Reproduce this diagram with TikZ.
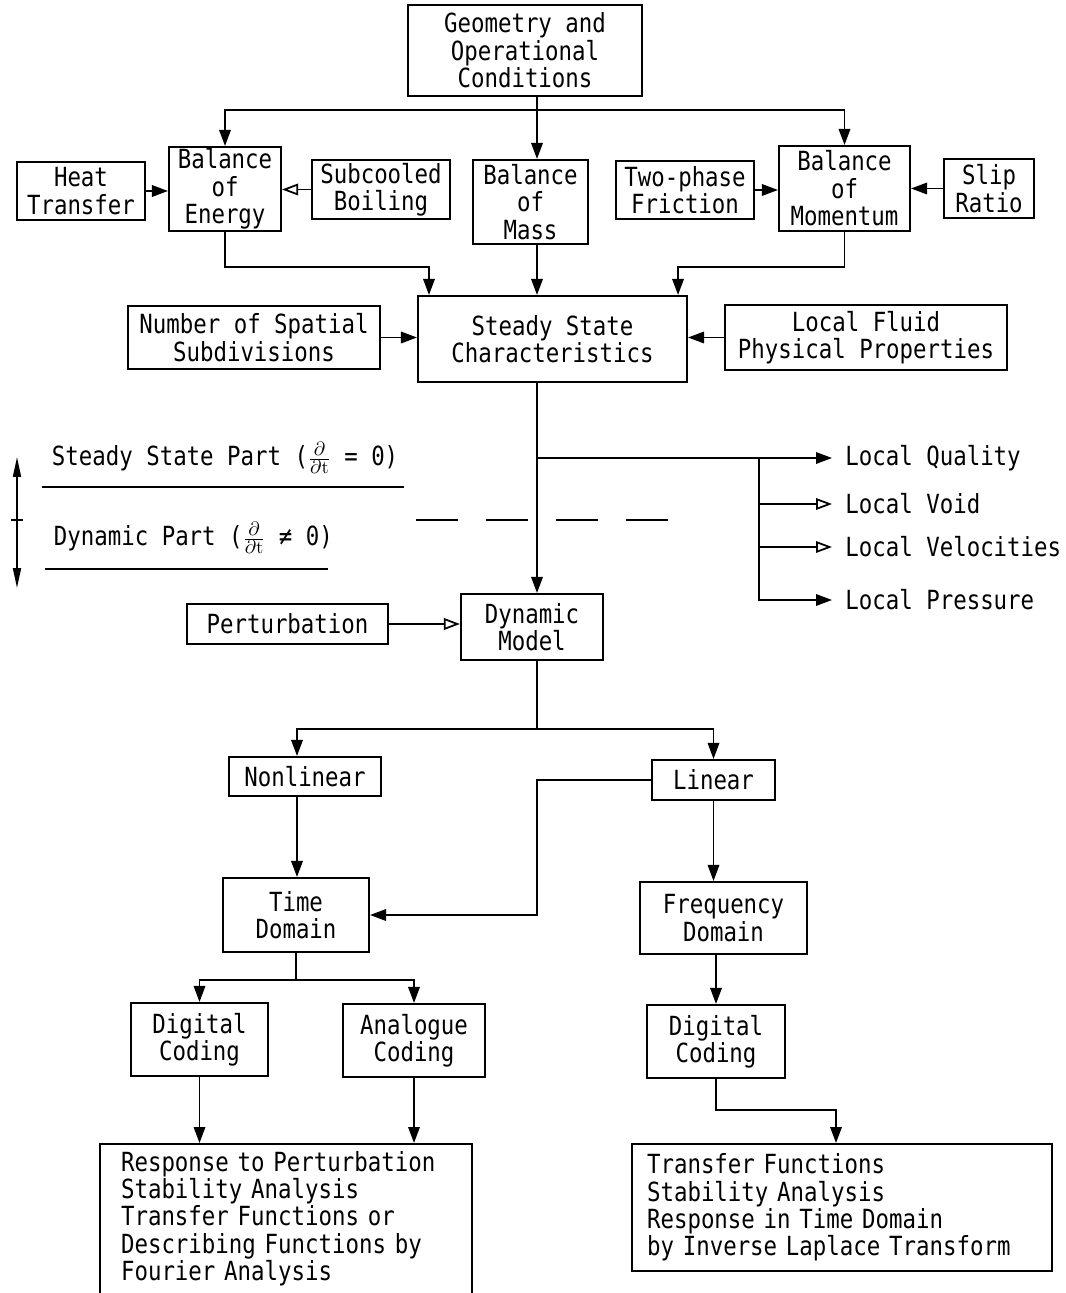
\documentclass[tikz,border=0pt]{standalone}
\usepackage{fontspec}
\newfontfamily\typewriter{DejaVu Sans Mono}[FakeStretch=0.85]
\usetikzlibrary{calc,arrows.meta}

\tikzset{
  box/.style={draw, line width=1.2pt, align=center, inner sep=0pt},
  arr/.style={-{Triangle[length=3.2mm,width=2.3mm]}},
  arro/.style={-{Triangle[open,length=3.2mm,width=2.3mm]}},
  outlabel/.style={anchor=west, inner xsep=0.25cm},
}

\begin{document}
\begin{tikzpicture}[x=0.02cm, y=-0.02cm, line width=1pt,
    font=\typewriter\fontsize{15}{15.6}\selectfont]
  \clip (0,0) rectangle (1065,1293);
  % columns used by the long lines
  \coordinate (spine) at (537,0);
  \coordinate (colL) at (297,0);

  % top block
  \node[box, minimum width=4.68cm, minimum height=1.82cm] (geo) at (525,50.5) {Geometry and\\Operational\\Conditions};
  \node[box, minimum width=2.56cm, minimum height=1.16cm] (heat) at (81,191) {Heat\\Transfer};
  \node[box, minimum width=2.24cm, minimum height=1.68cm] (energy) at (225,189) {Balance\\of\\Energy};
  \node[box, minimum width=2.76cm, minimum height=1.18cm] (sub) at (381,189.5) {Subcooled\\Boiling};
  \node[box, minimum width=2.30cm, minimum height=1.68cm] (mass) at (530.5,202) {Balance\\of\\Mass};
  \node[box, minimum width=2.76cm, minimum height=1.16cm] (two) at (685,190) {Two-phase\\Friction};
  \node[box, minimum width=2.62cm, minimum height=1.70cm] (mom) at (844.5,188.5) {Balance\\of\\Momentum};
  \node[box, minimum width=1.80cm, minimum height=1.18cm] (slip) at (989,188.5) {Slip\\Ratio};

  \coordinate (bus1) at (537,110);
  \draw (geo.south -| bus1) -- (bus1);
  \draw[arr] (bus1) -| (energy.north);
  \draw[arr] (bus1) -| (mom.north);
  \draw[arr] (bus1) -- (mass.north -| bus1);
  \draw[arr] (heat.east) -- (energy.west |- heat.east);
  \draw[arro] (sub.west) -- (energy.east |- sub.west);
  \draw[arr] (two.east) -- (mom.west |- two.east);
  \draw[arr] (slip.west) -- (mom.east |- slip.west);

  % steady state
  \node[box, minimum width=5.04cm, minimum height=1.26cm] (num) at (254,337.5) {Number of Spatial\\Subdivisions};
  \node[box, minimum width=5.38cm, minimum height=1.72cm] (ss) at (552.5,339) {Steady State\\Characteristics};
  \node[box, minimum width=5.64cm, minimum height=1.30cm] (fluid) at (866,337.5) {Local Fluid\\Physical Properties};

  \coordinate (bus2) at (0,267);
  \coordinate (ssL) at ($(ss.north west)+(12,0)$);
  \coordinate (ssR) at ($(ss.north east)+(-10,0)$);
  \draw[arr] (energy.south) |- (ssL |- bus2) -- (ssL);
  \draw[arr] (mom.south) |- (ssR |- bus2) -- (ssR);
  \draw[arr] (mass.south -| spine) -- (ss.north -| spine);
  \draw[arr] (num.east) -- (ss.west |- num.east);
  \draw[arr] (fluid.west) -- (ss.east |- fluid.west);

  % local outputs
  \node[outlabel] (LQ) at (832,458) {Local Quality};
  \node[outlabel] (LV) at (832,504) {Local Void};
  \node[outlabel] (LVel) at (832,547) {Local Velocities};
  \node[outlabel] (LP) at (832,600) {Local Pressure};
  \coordinate (tap) at (537,458);
  \coordinate (drop) at (759,458);
  \draw[arr] (tap) -- (LQ.west);
  \draw[arro] (drop |- LV.west) -- (LV.west);
  \draw[arro] (drop |- LVel.west) -- (LVel.west);
  \draw[arr] (drop) |- (LP.west);

  % steady / dynamic separation
  \coordinate (partT) at (17,457);
  \coordinate (partB) at (17,588);
  \draw[{Triangle[length=4mm,width=1.6mm]}-{Triangle[length=4mm,width=1.6mm]}] (partT) -- (partB);
  \draw ($(partT)!0.48!(partB)+(-6,0)$) -- ++(12,0);
  \node[anchor=west, inner sep=0.12cm] (ssp) at (45,458) {Steady State Part ($\frac{\partial}{\partial \mathrm{t}}$ = 0)};
  \node[anchor=west, inner sep=0.12cm] (dp) at (47,538) {Dynamic Part ($\frac{\partial}{\partial \mathrm{t}}$ ≠ 0)};
  \draw (42,487) -- (404,487);
  \draw (45,569) -- (328,569);
  \draw[dash pattern=on 0.84cm off 0.56cm] (416,520) -- (668,520);

  % dynamic model
  \node[box, minimum width=4.02cm, minimum height=0.80cm] (pert) at (287.5,624) {Perturbation};
  \node[box, minimum width=2.84cm, minimum height=1.32cm] (dyn) at (532,627) {Dynamic\\Model};
  \draw[arr] (ss.south -| spine) -- (dyn.north -| spine);
  \draw[arro] (pert.east) -- (dyn.west |- pert.east);

  \node[box, minimum width=3.04cm, minimum height=0.78cm] (nonlin) at (305,776.5) {Nonlinear};
  \node[box, minimum width=2.46cm, minimum height=0.80cm] (lin) at (713.5,780) {Linear};
  \node[box, minimum width=2.92cm, minimum height=1.48cm] (time) at (296,915) {Time\\Domain};
  \node[box, minimum width=3.34cm, minimum height=1.44cm] (freq) at (723.5,918) {Frequency\\Domain};

  \coordinate (bus3) at (537,729);
  \draw (dyn.south -| spine) -- (bus3);
  \draw[arr] (bus3) -| (nonlin.north -| colL);
  \draw[arr] (bus3) -| (lin.north);
  \draw[arr] (nonlin.south -| colL) -- (time.north -| colL);
  \draw[arr] (lin.west) -| (spine |- time.east) -- (time.east);
  \draw[arr] (lin.south) -- (freq.north -| lin.south);

  % coding
  \node[box, minimum width=2.74cm, minimum height=1.46cm] (digL) at (199.5,1039.5) {Digital\\Coding};
  \node[box, minimum width=2.84cm, minimum height=1.46cm] (ana) at (414,1040.5) {Analogue\\Coding};
  \node[box, minimum width=2.76cm, minimum height=1.46cm] (digR) at (716,1041.5) {Digital\\Coding};

  \coordinate (bus4) at (0,980);
  \draw (time.south) -- (time.south |- bus4);
  \draw[arr] (time.south |- bus4) -| (digL.north);
  \draw[arr] (time.south |- bus4) -| (ana.north);
  \draw[arr] (digR.north |- freq.south) -- (digR.north);

  % results (the left box runs past the page edge)
  \node[box, anchor=north west, align=left, text width=6.6cm, inner xsep=0.42cm, inner ysep=4pt] (resL) at (99,1143)
    {Response to Perturbation\\Stability Analysis\\Transfer Functions or\\Describing Functions by\\Fourier Analysis\\\rule{0pt}{0.9cm}};
  \node[box, anchor=north west, align=left, text width=7.8cm, inner xsep=0.3cm, minimum height=2.54cm] (resR) at (631,1143)
    {Transfer Functions\\Stability Analysis\\Response in Time Domain\\by Inverse Laplace Transform};

  \coordinate (bus5) at (0,1110);
  \coordinate (resRin) at ($(resR.north west)+(205,0)$);
  \draw[arr] (digL.south) -- (digL.south |- resL.north);
  \draw[arr] (ana.south) -- (ana.south |- resL.north);
  \draw[arr] (digR.south) |- (resRin |- bus5) -- (resRin);
\end{tikzpicture}
\end{document}
